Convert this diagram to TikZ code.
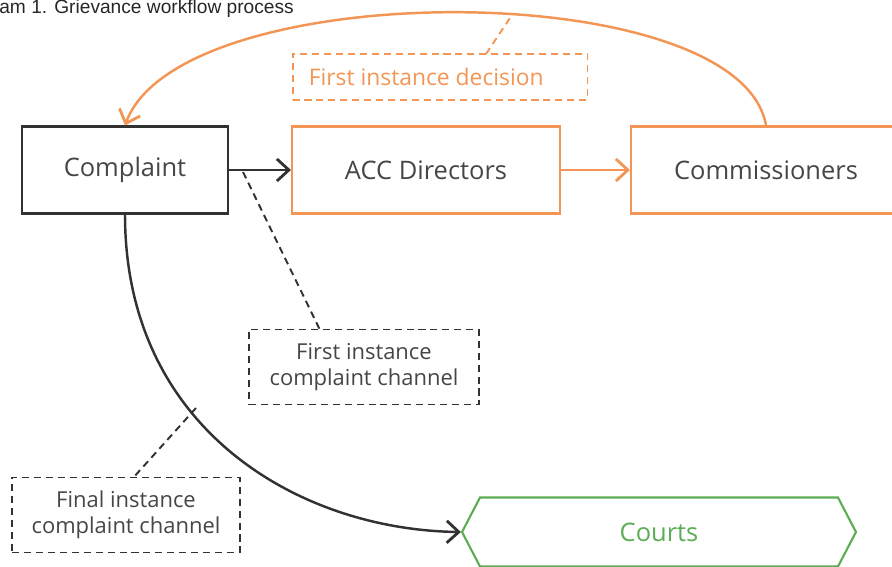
\documentclass[tikz,border=0pt]{standalone}
\usepackage{fontspec}
\setmainfont{Open Sans}
\newfontfamily\captionfont{Liberation Sans}
\usetikzlibrary{arrows.meta,shapes.symbols,positioning}
\definecolor{accorange}{RGB}{243,150,85}
\definecolor{courtgreen}{RGB}{92,172,84}
\definecolor{boxgray}{RGB}{50,50,50}
\definecolor{textgray}{RGB}{70,70,70}
\begin{document}
\begin{tikzpicture}[x=0.02cm, y=-0.02cm,
stage/.style={rectangle, draw=boxgray, line width=1.2pt, minimum height=1.74cm, align=center, font=\fontsize{14.5}{17}\selectfont, text=textgray},
orangestage/.style={stage, draw=accorange},
note/.style={rectangle, draw=boxgray, dash pattern=on 4pt off 2.8pt, line width=1.1pt, minimum width=4.6cm, minimum height=1.5cm, align=center, font=\fontsize{12.5}{15}\selectfont, text=textgray},
court/.style={signal, signal to=west and east, signal pointer angle=125, draw=courtgreen, line width=1.2pt, minimum width=7.88cm, minimum height=1.38cm, font=\fontsize{14.5}{17}\selectfont, text=courtgreen},
flow/.style={-{Straight Barb[length=2.4mm,width=4.4mm,line width=1.6pt]}, line width=1.4pt, boxgray},
oflow/.style={flow, accorange},
link/.style={dash pattern=on 4pt off 2.8pt, line width=1.1pt, boxgray}
]
\useasboundingbox (0,0) rectangle (892,567);
\node[anchor=base west, inner sep=0pt, font=\captionfont\fontsize{10.9}{12}\selectfont, text=black!85] (title) at (-1,14) {am 1. Grievance workflow process};

\node[stage, minimum width=4.12cm] (complaint) at (125,170) {Complaint};
\node[orangestage, minimum width=5.36cm] (acc) at (426,170) {ACC Directors};
\node[orangestage, minimum width=5.4cm] (comm) at (766,170) {Commissioners};
\node[note, draw=accorange, text=accorange, minimum width=5.9cm, minimum height=0.92cm, font=\fontsize{13}{15}\selectfont] (decision) at (440,77) {First instance decision\hspace{0.55cm}};
\node[note] (firstch) at (364,367) {First instance\\complaint channel};
\node[note, minimum width=4.56cm] (finalch) at (126,515) {Final instance\\complaint channel};
\node[court] (courts) at (659,532) {Courts};

\draw[flow] (complaint) -- (acc);
\draw[oflow] (acc) -- (comm);
\draw[oflow] (comm.north) .. controls (740,-25) and (180,-25) .. (complaint.north);
\draw[flow] (complaint.south) .. controls (125,430) and (300,530) .. (courts.west);

% dashed callouts
\coordinate (decpt) at (512,15);
\coordinate (dectop) at (486,54);
\coordinate (firstpt) at (243,172);
\coordinate (firsttop) at (320,330);
\coordinate (finalpt) at (196,408);
\coordinate (finaltop) at (133,478);
\draw[link, accorange] (dectop) -- (decpt);
\draw[link] (firstpt) -- (firsttop);
\draw[link] (finalpt) -- (finaltop);
\end{tikzpicture}
\end{document}
